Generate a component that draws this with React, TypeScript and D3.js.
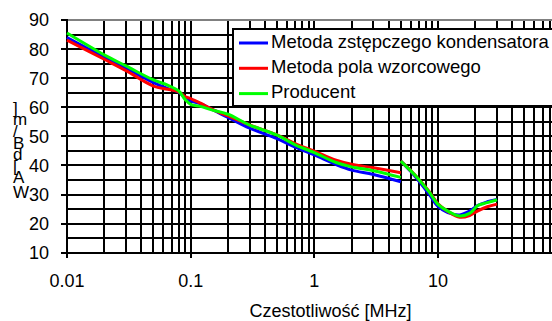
import React from "react";
import * as d3 from "d3";

const W = 552;
const H = 321;

const freqLow = [0.01, 0.02, 0.03, 0.05, 0.065, 0.08, 0.09, 0.1, 0.12, 0.15, 0.2, 0.3, 0.5, 0.7, 1, 1.5, 2, 3, 5];
const blueLow = [84, 77.2, 73.4, 68.5, 66.5, 65.2, 63.3, 62.2, 61.2, 59.2, 56.5, 52.8, 49.2, 46.3, 43.6, 40.3, 38.4, 36.9, 34.4];
const redLow = [83.1, 76.5, 72.6, 67.3, 66.2, 65.3, 63.7, 63.0, 61.4, 59.3, 57.0, 53.9, 50.5, 47.5, 44.9, 41.8, 40.4, 39.2, 37.5];
const greenLow = [85.5, 78, 74.2, 69.4, 67.6, 65.6, 62.7, 61.0, 60.3, 59.0, 57.6, 53.9, 50.4, 47.1, 44.4, 41.0, 39.5, 38.2, 35.9];

const freqHigh = [5, 6, 7, 8.5, 10, 12, 15, 18, 21, 25, 30];
const blueHigh = [41.5, 38, 34.6, 30, 25.9, 23.8, 23.0, 24.3, 26.3, 27.5, 28.3];
const redHigh = [41.5, 38.3, 35.2, 31, 26.8, 24.2, 22.2, 22.8, 24.4, 25.8, 26.7];
const greenHigh = [41.5, 38.2, 35.2, 30.8, 26.6, 24.3, 22.6, 23.5, 26.2, 27.2, 28.2];

const seriesNames = ["Metoda zstępczego kondensatora", "Metoda pola wzorcowego", "Producent"];
const seriesColors = ["#0000FF", "#FF0000", "#00FF00"];

const yTickLabels = [10, 20, 30, 40, 50, 60, 70, 80, 90];
const yGridValues = d3.range(15, 90, 5);
const xTickLabels = ["0.01", "0.1", "1", "10"];
const xTickValues = [0.01, 0.1, 1, 10];
const xTitle = "Czestotliwość [MHz]";
const yTitleChars = ["W", "A", "[", "d", "B", "/", "m", "]"];

const FONT = "'Liberation Sans', Arial, sans-serif";

export default function App() {
  const x = d3.scaleLog().domain([0.01, 100]).range([67, 561.7]);
  const y = d3.scaleLinear().domain([10, 90]).range([252.7, 20]);
  const rx = (v: number) => Math.round(x(v));
  const ry = (v: number) => Math.round(y(v));

  const vGrid: number[] = [];
  for (let e = -2; e < 2; e++) {
    for (let m = 1; m <= 9; m++) {
      const v = m * Math.pow(10, e);
      if (v > 0.01) vGrid.push(v);
    }
  }
  vGrid.push(100);

  const line = d3
    .line<[number, number]>()
    .x((d) => x(d[0]))
    .y((d) => y(d[1]))
    .curve(d3.curveCatmullRom.alpha(0.5));

  const lows = [blueLow, redLow, greenLow];
  const highs = [blueHigh, redHigh, greenHigh];

  return (
    <svg width={W} height={H} style={{ position: "absolute", left: 0, top: 0 }} fontFamily={FONT}>
      <rect x={0} y={0} width={W} height={H} fill="#fff" />
      <g shapeRendering="crispEdges">
        {yGridValues.map((v) => (
          <line key={"h" + v} x1={rx(0.01)} x2={rx(100)} y1={ry(v)} y2={ry(v)} stroke="#000" strokeWidth={2} />
        ))}
        {vGrid.map((v) => (
          <line key={"v" + v} x1={rx(v)} x2={rx(v)} y1={ry(90)} y2={ry(10)} stroke="#000" strokeWidth={2} />
        ))}
        <line x1={rx(0.01)} x2={rx(100)} y1={ry(90)} y2={ry(90)} stroke="#808080" strokeWidth={2} />
        <line x1={rx(0.01)} x2={rx(0.01)} y1={ry(90) - 1} y2={ry(10) + 1} stroke="#000" strokeWidth={2} />
        <line x1={rx(0.01)} x2={rx(100)} y1={ry(10)} y2={ry(10)} stroke="#000" strokeWidth={2} />
        {yTickLabels.map((v) => (
          <line key={"ytl" + v} x1={rx(0.01) - 6} x2={rx(0.01)} y1={ry(v)} y2={ry(v)} stroke="#000" strokeWidth={2} />
        ))}
        {xTickValues.map((v) => (
          <line key={"xtl" + v} x1={rx(v)} x2={rx(v)} y1={ry(10)} y2={ry(10) + 5} stroke="#000" strokeWidth={2} />
        ))}
      </g>
      {yTickLabels.map((v) => (
        <text key={"yt" + v} x={49} y={y(v)} dy="0.36em" textAnchor="end" fontSize={18} fill="#000">
          {v}
        </text>
      ))}
      {xTickValues.map((v, i) => (
        <text key={"xt" + v} x={x(v)} y={287} textAnchor="middle" fontSize={18} fill="#000">
          {xTickLabels[i]}
        </text>
      ))}
      {lows.map((s, i) => (
        <path
          key={"l" + i}
          d={line(freqLow.map((f, j) => [f, s[j]] as [number, number])) || ""}
          fill="none"
          stroke={seriesColors[i]}
          strokeWidth={3}
        />
      ))}
      {highs.map((s, i) => (
        <path
          key={"hs" + i}
          d={line(freqHigh.map((f, j) => [f, s[j]] as [number, number])) || ""}
          fill="none"
          stroke={seriesColors[i]}
          strokeWidth={3}
        />
      ))}
      <rect x={233} y={29} width={330} height={77} fill="#fff" stroke="#000" strokeWidth={2} shapeRendering="crispEdges" />
      {seriesNames.map((n, i) => (
        <g key={"lg" + i}>
          <line x1={239} x2={268} y1={43 + i * 25.3} y2={43 + i * 25.3} stroke={seriesColors[i]} strokeWidth={3} />
          <text x={271} y={48 + i * 25} fontSize={18.5} fill="#000">
            {n}
          </text>
        </g>
      ))}
      <text x={330.5} y={317} textAnchor="middle" fontSize={18} fill="#000">
        {xTitle}
      </text>
      <text fontSize={17} fill="#000">
        {yTitleChars.map((c, i) => (
          <tspan key={"yc" + i} x={13} y={198 - i * 11.6 - (i > 0 ? 3 : 0)}>
            {c}
          </tspan>
        ))}
      </text>
    </svg>
  );
}
